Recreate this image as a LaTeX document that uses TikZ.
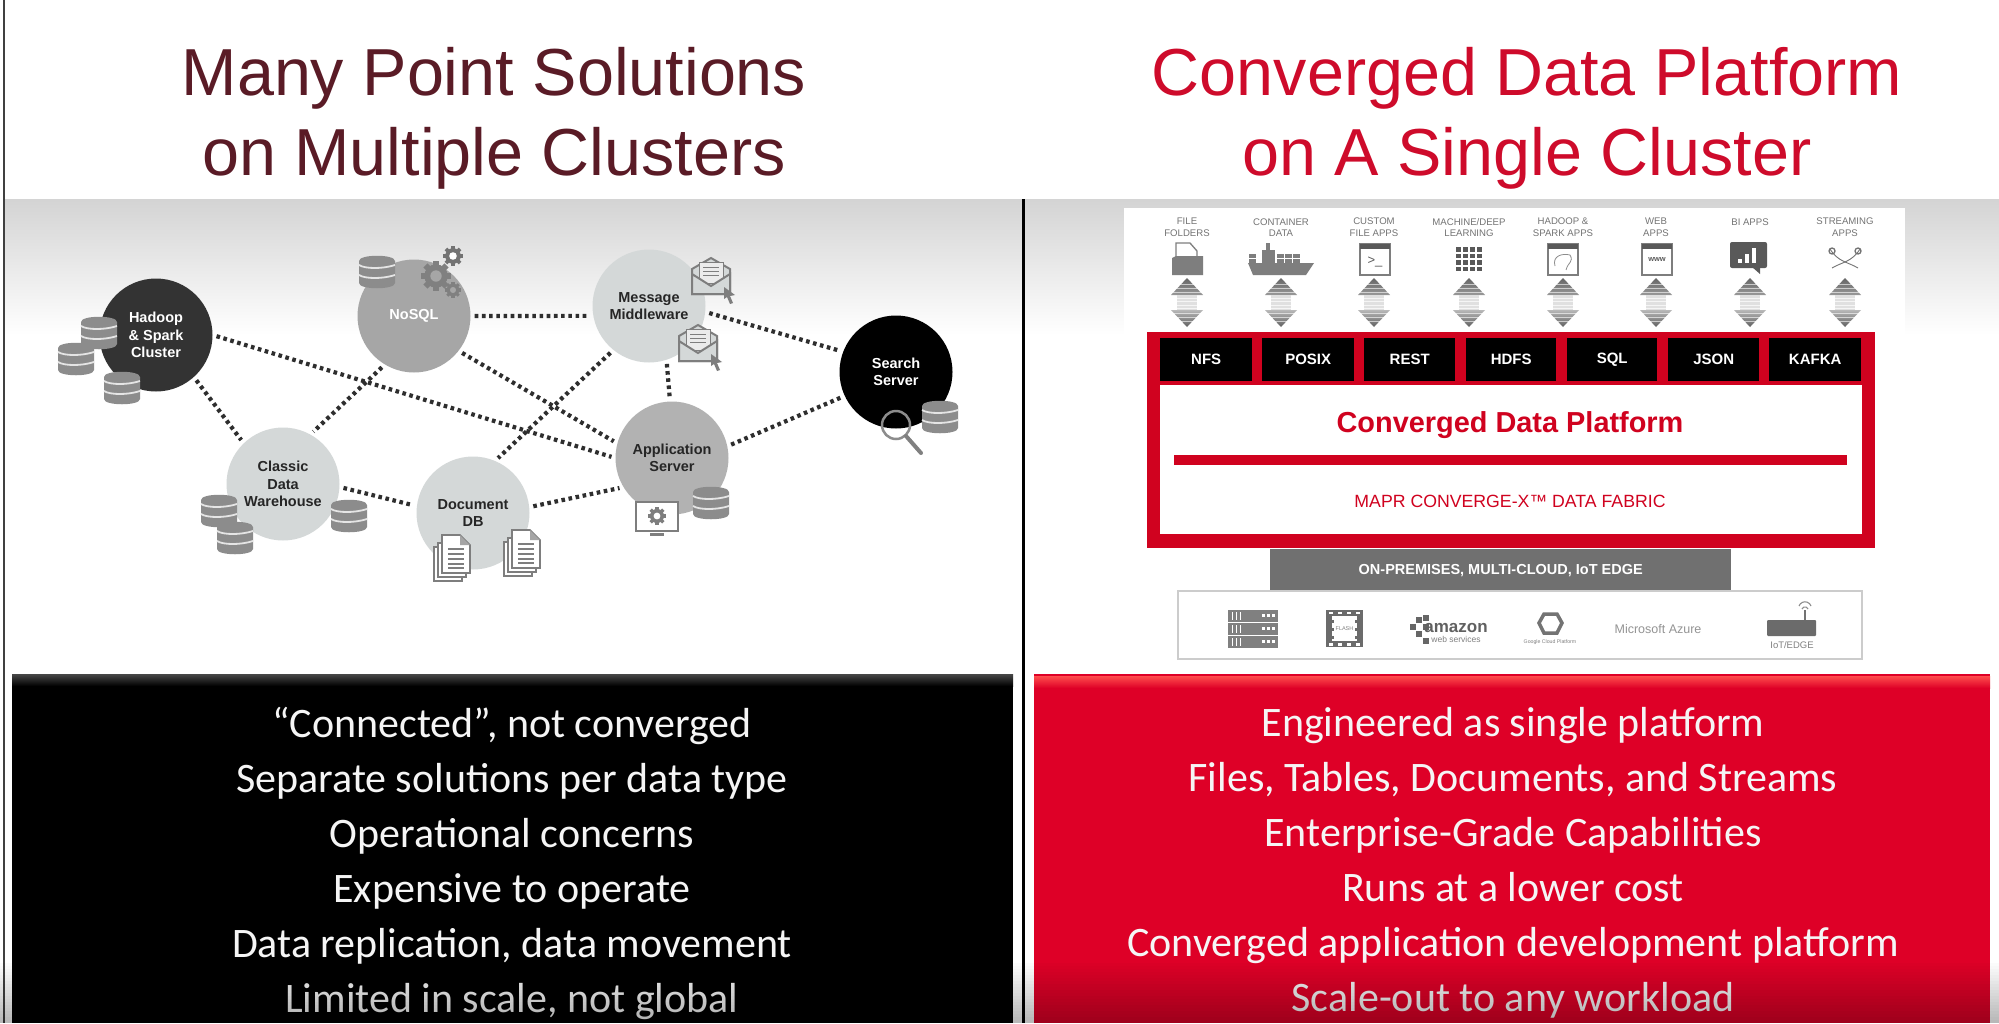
\documentclass[tikz,border=0pt]{standalone}
\usepackage{fontspec}
\setmainfont{Liberation Sans}
\newfontfamily\carlitofont{Carlito}
\usetikzlibrary{calc}
\definecolor{titledark}{HTML}{5A1B26}
\definecolor{titlered}{HTML}{CE0B2B}
\definecolor{mred}{HTML}{D0021F}
\definecolor{boxred}{HTML}{DE0027}
\definecolor{dbgray}{HTML}{8C8C8C}
\definecolor{icongray}{HTML}{7E7E7E}
\definecolor{lightc}{HTML}{D4D8D8}
\tikzset{
  x=1pt,y=-1pt,
  bubble/.style={circle,minimum size=113pt,inner sep=0pt,align=center,font=\bfseries\fontsize{14.5}{17.3}\selectfont},
  dotlink/.style={line width=4.2pt,dash pattern=on 3.6pt off 3.6pt,color=black!82,shorten <=4pt,shorten >=4pt},
  titletext/.style={font=\fontsize{66.5}{80}\selectfont,align=center},
  bullets/.style={font=\carlitofont\fontsize{42}{55}\selectfont,align=center,text=white!96!black},
  applabel/.style={font=\fontsize{9.6}{11.7}\selectfont,align=center,text=black!55},
  cell/.style={fill=black,text=white,font=\bfseries\fontsize{15}{15}\selectfont,inner sep=0pt,minimum height=43pt},
  iconline/.style={draw=icongray,line width=1.6pt,fill=white}
}
\newcommand{\dbicon}[2]{\begin{scope}[shift={(#1,#2)}]
 \fill[dbgray] (-18,-11) .. controls (-18,-18) and (18,-18) .. (18,-11) -- (18,11) .. controls (18,18) and (-18,18) .. (-18,11) -- cycle;
 \draw[white!90!black,line width=1.8pt] (-18,-7) .. controls (-12,-3) and (6,-3) .. (18,-7);
 \draw[white!90!black,line width=1.8pt] (-18,3) .. controls (-12,7) and (6,7) .. (18,3);
\end{scope}}
\newcommand{\gearicon}[5]{\begin{scope}[shift={(#1,#2)}]
 \fill[#4] (0,0) circle[radius=#3*0.78];
 \foreach \a in {0,45,...,315} {\draw[#4,line width=#3*0.38pt] (\a:#3*0.6) -- (\a:#3);}
 \fill[#5] (0,0) circle[radius=#3*0.38];
\end{scope}}
\newcommand{\envelope}[2]{\begin{scope}[shift={(#1,#2)}]
 \draw[draw=icongray,line width=2pt,fill=lightc] (-19,-8) -- (0,-19) -- (19,-8) -- (19,17) -- (-19,17) -- cycle;
 \draw[draw=icongray,line width=1pt,fill=white!92!black] (-12,-15) rectangle (12,6);
 \foreach \yy in {-10,-6,-2} {\draw[icongray,line width=1pt] (-8,\yy) -- (8,\yy);}
 \draw[draw=icongray,line width=2pt,fill=lightc] (-19,-3) -- (0,9) -- (19,-3) -- (19,17) -- (-19,17) -- cycle;
 \fill[icongray] (13,10) -- (24,18) -- (19,19) -- (22,26) -- (19,27) -- (16,20) -- (13,22) -- cycle;
\end{scope}}
\newcommand{\docstack}[2]{\begin{scope}[shift={(#1,#2)}]
 \draw[iconline] (-18,-10) rectangle (10,24);
 \draw[iconline] (-14,-14) rectangle (14,20);
 \draw[iconline] (-10,-22) -- (8,-22) -- (18,-12) -- (18,16) -- (-10,16) -- cycle;
 \fill[icongray!70] (8,-22) -- (18,-12) -- (8,-12) -- cycle;
 \foreach \yy in {-8,-3,2,7,11} {\draw[icongray,line width=1.1pt] (-4,\yy) -- (12,\yy);}
\end{scope}}
\newcommand{\updown}[1]{\begin{scope}[shift={(#1,0)}]
 \shade[top color=black!60,bottom color=black!40] (0,278) -- (16,295) -- (-16,295) -- cycle;
 \foreach \yy in {284,288,292} {\draw[white,opacity=.6,line width=.9pt] (-17,\yy) -- (17,\yy);}
 \fill[black!12] (-10,295) rectangle (10,310);
 \foreach \yy in {298,301.5,305,308} {\draw[white,opacity=.7,line width=1pt] (-11,\yy) -- (11,\yy);}
 \shade[top color=black!28,bottom color=black!62] (-16,310) -- (16,310) -- (0,327) -- cycle;
 \foreach \yy in {313,317,321} {\draw[white,opacity=.6,line width=.9pt] (-17,\yy) -- (17,\yy);}
\end{scope}}
\newcommand{\appwin}[1]{\draw[draw=icongray,line width=1.5pt,fill=white] (#1-15,244) rectangle (#1+15,275);
 \fill[black!65] (#1-15,244) rectangle (#1+15,249);}
\begin{document}
\begin{tikzpicture}
\useasboundingbox (0,0) rectangle (1999,1023);
\fill[white] (0,0) rectangle (1999,1023);
% gradient band
\shade[top color=black!17,bottom color=white] (4,199) rectangle (1999,335);
% page lines
\draw[black!75,line width=2pt] (4,0) -- (4,1023);
\draw[black,line width=3pt] (1023,199) -- (1023,1023);
% titles
\node[titletext,text=titledark] (lefttitle) at (494,118) {Many Point Solutions\\on Multiple Clusters};
\node[titletext,text=titlered] (righttitle) at (1527,118) {Converged Data Platform\\on A Single Cluster};
% bubbles and their links
\node[bubble,fill=black!80,text=white] (hadoop) at (156,335) {Hadoop\\\& Spark\\Cluster};
\node[bubble,fill=black!35,text=white] (nosql) at (414,316) {NoSQL};
\node[bubble,fill=lightc,text=black!85] (msg) at (649,306) {Message\\Middleware};
\node[bubble,fill=black,text=white] (search) at (896,372) {Search\\Server};
\node[bubble,fill=black!30,text=black!85] (app) at (672,458) {Application\\Server};
\node[bubble,fill=lightc,text=black!85] (classic) at (283,484) {Classic\\Data\\Warehouse};
\node[bubble,fill=lightc,text=black!85] (docdb) at (473,513) {Document\\DB};
\draw[dotlink] (hadoop.east) -- (app.west);
\draw[dotlink] (hadoop.-48) -- (classic.134);
\draw[dotlink] (nosql.-121) -- (classic.61);
\draw[dotlink] (nosql.0) -- (msg.190);
\draw[dotlink] (nosql.-38) -- (app.165);
\draw[dotlink] (msg.231) -- (docdb.67);
\draw[dotlink] (msg.-72) -- (app.92);
\draw[dotlink] (msg.-6) -- (search.159);
\draw[dotlink] (app.12) -- (search.205);
\draw[dotlink] (classic.-3) -- (docdb.173);
\draw[dotlink] (docdb.6) -- (app.211);
% small pictures on the bubbles
\dbicon{99}{333}\dbicon{76}{359}\dbicon{122}{388}
\dbicon{377}{272}
\dbicon{219}{511}\dbicon{235}{538}\dbicon{349}{516}
\dbicon{711}{503}\dbicon{940}{417}
\gearicon{453}{256}{10}{black!55}{white}
\gearicon{436}{276}{15}{black!50}{black!35}
\gearicon{453}{290}{8}{black!50}{black!35}
\envelope{711}{277}\envelope{698}{344}
\docstack{452}{557}\docstack{522}{552}
% magnifier
\draw[black!45,line width=2.5pt] (896,425) circle[radius=14];
\draw[black!50,line width=4pt,line cap=round] (906,436) -- (921,453);
% monitor
\draw[iconline] (636,502) rectangle (678,531);
\draw[icongray,line width=3pt] (650,534) -- (664,534);
\gearicon{657}{516}{9}{icongray}{white}
% right panel
\fill[white] (1124,208) rectangle (1905,670);
\foreach \i/\xx/\txt in {1/1187/{FILE\\FOLDERS},2/1281/{CONTAINER\\DATA},3/1374/{CUSTOM\\FILE APPS},4/1469/{MACHINE/DEEP\\LEARNING},5/1563/{HADOOP \&\\SPARK APPS},6/1656/{WEB\\APPS},8/1845/{STREAMING\\APPS}}
 {\node[applabel] (applabel\i) at (\xx,227.5) {\txt};}
\node[applabel] (applabel7) at (1750,222) {BI APPS};
\foreach \xx in {1187,1281,1374,1469,1563,1656,1750,1845} {\updown{\xx}}
% icon: folder
\draw[draw=icongray,line width=1.3pt,fill=white] (1176,243) -- (1190,243) -- (1197,251) -- (1197,262) -- (1176,262) -- cycle;
\fill[icongray] (1172,258) -- (1176,256) -- (1203,256) -- (1203,275) -- (1172,275) -- cycle;
% icon: ship
\fill[icongray] (1248,263) -- (1314,263) -- (1306,275) -- (1253,275) -- cycle;
\fill[icongray] (1262,250) rectangle (1275,264);
\fill[icongray] (1266,243) rectangle (1270,250);
\foreach \xx in {1249,1277,1285,1293} {\foreach \yy in {254,259} {\fill[icongray] (\xx,\yy) rectangle ++(7,4);}}
% icon: windows
\appwin{1375}
\node[font=\fontsize{13}{13}\selectfont,text=black!65,inner sep=0pt] (prompt) at (1375,262) {>\_};
\foreach \xx in {1458,1465,1472,1479} {\foreach \yy in {249,255.5,262,268.5} {\fill[black!65] (\xx-2,\yy-2) rectangle ++(4.6,4.6);}}
\appwin{1563}
\draw[black!45,line width=.8pt] (1555,266) .. controls (1552,256) and (1562,253) .. (1570,255) .. controls (1574,262) and (1568,262) .. (1566,270);
\appwin{1657}
\node[font=\bfseries\fontsize{7.5}{7.5}\selectfont,text=black!65,inner sep=0pt] (www) at (1657,260) {www};
% icon: BI chart
\fill[black!65,rounded corners=2pt] (1730,242) rectangle (1767,268);
\fill[black!65] (1752,267) -- (1760,267) -- (1760,274) -- cycle;
\fill[white] (1738,259) rectangle (1742,263);
\fill[white] (1745,254) rectangle (1749,263);
\fill[white] (1752,248) rectangle (1756,263);
% icon: streaming
\draw[black!55,line width=.9pt] (1830,249) .. controls (1838,262) and (1848,262) .. (1858,268);
\draw[black!55,line width=.9pt] (1860,249) .. controls (1852,262) and (1842,262) .. (1832,268);
\draw[black!55,line width=1.3pt] (1832,251) circle[radius=3];
\draw[black!55,line width=1.3pt] (1858,251) circle[radius=3];
% red frame
\fill[mred] (1147,332) rectangle (1875,548);
\fill[white] (1160,385) rectangle (1862,534);
\foreach \n/\xa/\xb/\txt in {nfs/1160/1252/NFS,posix/1262/1354/POSIX,rest/1364/1455/REST,hdfs/1466/1556/HDFS,sql/1567/1657/SQL,json/1668/1759/JSON,kafka/1769/1861/KAFKA}
 {\node[cell,minimum width=\xb pt-\xa pt,anchor=north west] (\n) at (\xa,338) {\txt};}
\node[font=\bfseries\fontsize{28.9}{29}\selectfont,text=mred,inner sep=0pt] (cdp) at (1510,425.5) {Converged Data Platform};
\fill[mred] (1174,455) rectangle (1847,465);
\node[font=\fontsize{17.7}{18}\selectfont,text=mred,inner sep=0pt] (fabric) at (1510,501) {MAPR CONVERGE-X™ DATA FABRIC};
\node[fill=black!56,text=white,font=\bfseries\fontsize{14.5}{15}\selectfont,minimum width=461pt,minimum height=43pt,inner sep=0pt,anchor=north west] (edge) at (1270,549) {ON-PREMISES, MULTI-CLOUD, IoT EDGE};
\draw[black!20,line width=1.2pt] (1178,591) rectangle (1862,659);
% infrastructure icons
\foreach \yy in {610,623,636} {\fill[black!50] (1228,\yy) rectangle (1278,\yy+11.5);
  \foreach \a in {1262,1267,1272} {\fill[white] (\a,\yy+4) rectangle ++(3,3);}
  \foreach \a in {1232,1236,1240} {\fill[white] (\a,\yy+2) rectangle ++(1.4,7.5);}}
\fill[black!58] (1326,610) rectangle (1363,647);
\fill[white] (1332,616) rectangle (1357,641);
\foreach \a in {1329,1338,1347,1356} {\fill[white] (\a,611.5) rectangle ++(4,2.5); \fill[white] (\a,643) rectangle ++(4,2.5);}
\foreach \b in {620,628,636} {\fill[black!58] (1330,\b) rectangle ++(4,3); \fill[black!58] (1355,\b) rectangle ++(4,3);}
\node[font=\fontsize{5.5}{5.5}\selectfont,text=black!50,inner sep=0pt] (flash) at (1344.5,628.5) {FLASH};
\foreach \a/\b in {1410/624,1416/617,1416/631,1423/624,1423/638,1423/615} {\fill[black!60] (\a,\b) rectangle ++(6,5.5);}
\node[font=\bfseries\fontsize{17}{17}\selectfont,text=black!62,inner sep=0pt] (amazon) at (1456,628) {amazon};
\node[font=\fontsize{8.5}{8.5}\selectfont,text=black!50,inner sep=0pt] (aws) at (1456,639) {web services};
\draw[black!55,line width=3.5pt] (1544,614) -- (1557,614) -- (1562,623) -- (1557,633) -- (1544,633) -- (1539,623) -- cycle;
\node[font=\fontsize{5.2}{5.2}\selectfont,text=black!50,inner sep=0pt] (gcp) at (1550,642) {Google Cloud Platform};
\node[font=\fontsize{12.5}{12.5}\selectfont,text=black!42,inner sep=0pt] (azure) at (1658,629) {Microsoft Azure};
\fill[black!58,rounded corners=1pt] (1767,620) rectangle (1816,636);
\draw[black!55,line width=1.2pt] (1805,620) -- (1805,610);
\draw[black!45,line width=1.1pt] (1799,606) arc[start angle=200,end angle=340,radius=6.4];
\draw[black!45,line width=1.1pt] (1802,609) arc[start angle=200,end angle=340,radius=3.2];
\node[font=\fontsize{9.5}{9.5}\selectfont,text=black!50,inner sep=0pt] (iot) at (1792,645) {IoT/EDGE};
% bottom boxes
\fill[black] (12,674) rectangle (1013,1023);
\shade[top color=black!72,bottom color=black] (12,674) rectangle (1013,686);
\fill[boxred] (1034,674) rectangle (1990,1023);
\shade[top color=red!70!white,bottom color=boxred] (1034,676) rectangle (1990,688);
\node[bullets] (leftbullets) at (512,863) {“Connected”, not converged\\Separate solutions per data type\\Operational concerns\\Expensive to operate\\Data replication, data movement\\Limited in scale, not global};
\node[bullets] (rightbullets) at (1513,863) {Engineered as single platform\\Files, Tables, Documents, and Streams\\Enterprise-Grade Capabilities\\Runs at a lower cost\\Converged application development platform\\Scale-out to any workload};
% video fade at the foot
\foreach \i in {0,...,20} {\fill[black,opacity=\i*0.014] (0,960+\i*3) rectangle (1999,963+\i*3);}
\end{tikzpicture}
\end{document}
